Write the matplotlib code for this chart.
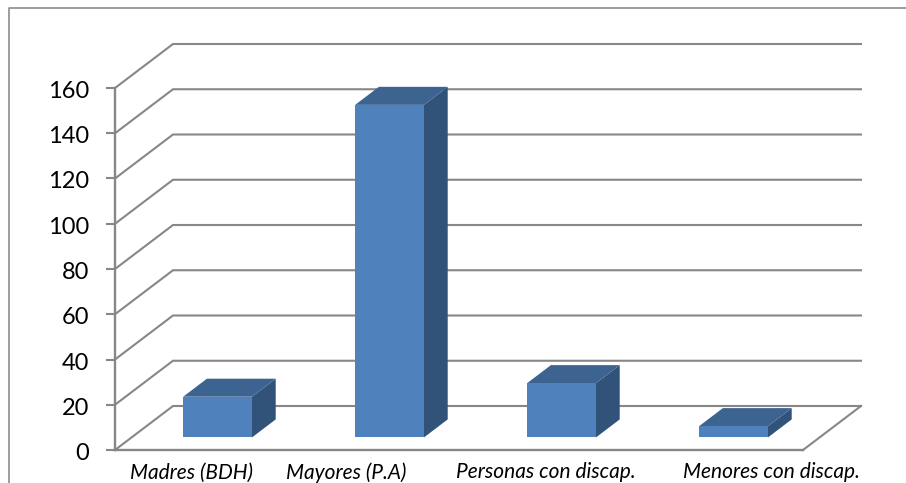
import matplotlib
matplotlib.use("Agg")
import matplotlib.pyplot as plt
from matplotlib.transforms import ScaledTranslation

categories = ["Madres (BDH)", "Mayores (P.A)", "Personas con discap.", "Menores con discap."]
values = [18, 147, 24, 5]
y_ticks = [0, 20, 40, 60, 80, 100, 120, 140, 160]

W, H = 906, 483
LINE = "#878787"

plt.rcParams["font.family"] = ["Lato", "DejaVu Sans"]

fig = plt.figure(figsize=(W / 100, H / 100), dpi=100)
ax = fig.add_axes([115 / W, 1 - 450 / H, 688 / W, 362 / H])
ax.set_xlim(0, 4)
ax.set_ylim(0, 160)
ax.patch.set_alpha(0)

# depth of the 3d box, in data units (58px right, 44px up in the picture)
depth_x = 58 / 172
depth_y = 44 / (362 / 160)


def proj(x, y, d):
    return x + d * depth_x, y + d * depth_y


# walls and floor
for v in y_ticks:
    xs = [proj(0, v, 0)[0], proj(0, v, 1)[0], proj(4, v, 1)[0]]
    ys = [proj(0, v, 0)[1], proj(0, v, 1)[1], proj(4, v, 1)[1]]
    ax.plot(xs, ys, color=LINE, lw=1.5, clip_on=False, zorder=1, solid_joinstyle="miter")
x1, y1 = proj(4, 0, 1)
x2, y2 = proj(4, 0, 0)
ax.plot([x1, x2], [y1, y2], color=LINE, lw=1.5, clip_on=False, zorder=1)

# bars
bar_w = 0.4
d0, d1 = 0.285, 0.695
for i, v in enumerate(values):
    left = i + 0.5 - bar_w / 2
    right = left + bar_w
    corners_front = [proj(left, 0, d0), proj(right, 0, d0), proj(right, v, d0), proj(left, v, d0)]
    corners_top = [proj(left, v, d0), proj(right, v, d0), proj(right, v, d1), proj(left, v, d1)]
    corners_side = [proj(right, 0, d0), proj(right, 0, d1), proj(right, v, d1), proj(right, v, d0)]
    ax.fill(*zip(*corners_side), color="#325379", lw=0, clip_on=False, zorder=3)
    ax.fill(*zip(*corners_top), color="#3d6491", lw=0, clip_on=False, zorder=3)
    ax.fill(*zip(*corners_front), color="#4f81bd", lw=0, clip_on=False, zorder=3)

ax.spines["top"].set_visible(False)
ax.spines["right"].set_visible(False)
for s in ["left", "bottom"]:
    ax.spines[s].set_color(LINE)
    ax.spines[s].set_linewidth(1.7)
ax.set_yticks(y_ticks)
ax.tick_params(axis="y", length=6.5, width=1.5, color=LINE, labelsize=17, pad=12, labelcolor="black")
# nudge the numbers down a little
down = ScaledTranslation(0, -1.5 / 100, fig.dpi_scale_trans)
for lab in ax.get_yticklabels():
    lab.set_transform(lab.get_transform() + down)

# the labels are not evenly spaced in the picture
label_px = [191, 346, 546, 771]
ax.set_xticks([(p - 115) / 172 for p in label_px])
ax.set_xticklabels(categories, style="italic", fontsize=15, color="black")
ax.tick_params(axis="x", length=0, pad=9)

# chart frame
frame_x = [8.5 / W, 8.5 / W, 1.0]
frame_y = [0, 1 - 7.5 / H, 1 - 7.5 / H]
fig.add_artist(plt.Line2D(frame_x, frame_y, color="#8c8c8c", lw=1.2))

fig.savefig("out.png", dpi=100)
